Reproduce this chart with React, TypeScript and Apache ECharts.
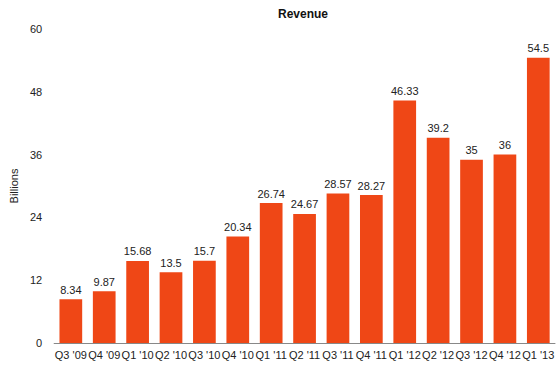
import React, { useEffect, useRef } from "react";
import * as echarts from "echarts";

const categories = ["Q3 '09", "Q4 '09", "Q1 '10", "Q2 '10", "Q3 '10", "Q4 '10", "Q1 '11", "Q2 '11", "Q3 '11", "Q4 '11", "Q1 '12", "Q2 '12", "Q3 '12", "Q4 '12", "Q1 '13"];
const revenue = [8.34, 9.87, 15.68, 13.5, 15.7, 20.34, 26.74, 24.67, 28.57, 28.27, 46.33, 39.2, 35, 36, 54.5];
const yTicks = [0, 12, 24, 36, 48, 60];

const FONT = "'Liberation Sans', Arial, Helvetica, sans-serif";

export default function App() {
  const ref = useRef<HTMLDivElement>(null);
  useEffect(() => {
    if (!ref.current) return;
    const chart = echarts.init(ref.current, undefined, { renderer: "svg" });
    chart.setOption({
      animation: false,
      backgroundColor: "#ffffff",
      title: {
        text: "Revenue",
        left: 298,
        textAlign: "center",
        top: 3,
        textStyle: { fontFamily: FONT, fontSize: 12, fontWeight: "bold", color: "#111" },
      },
      grid: { left: 41, right: 5, top: 29, bottom: 26 },
      xAxis: {
        type: "category",
        data: categories,
        axisLine: { lineStyle: { color: "#888", width: 1 } },
        axisTick: { show: false },
        axisLabel: { interval: 0, fontFamily: FONT, fontSize: 11, color: "#222", margin: 6 },
      },
      yAxis: {
        type: "value",
        min: 0,
        max: 60,
        interval: 12,
        name: "Billions",
        nameLocation: "middle",
        nameGap: 31,
        nameTextStyle: { fontFamily: FONT, fontSize: 11, color: "#222" },
        axisLine: { show: false },
        axisTick: { show: false },
        splitLine: { show: false },
        axisLabel: { fontFamily: FONT, fontSize: 11, color: "#222", margin: 12,
          formatter: (v: number) => (yTicks.includes(v) ? String(v) : "") },
      },
      series: [
        {
          type: "bar",
          data: revenue,
          barCategoryGap: "32%",
          itemStyle: { color: "#ef4716" },
          label: { show: true, position: "top", fontFamily: FONT, fontSize: 11, color: "#222", distance: 4 },
        },
      ],
    });
    return () => chart.dispose();
  }, []);
  return <div ref={ref} style={{ width: 560, height: 369, position: "absolute", left: 0, top: 0 }} />;
}
